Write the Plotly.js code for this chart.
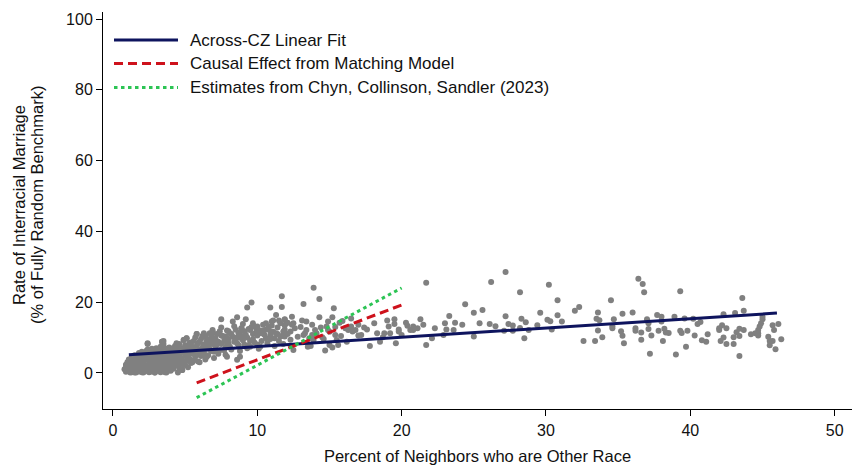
<!DOCTYPE html>
<html>
<head>
<meta charset="utf-8">
<script src="https://cdn.plot.ly/plotly-3.0.1.min.js"></script>
<style>html,body{margin:0;padding:0;background:#fff;}#chart{width:854px;height:465px;}</style>
</head>
<body>
<div id="chart"></div>
<script>
// Commuting-zone scatter: percent of neighbors who are other race (x) vs rate of interracial marriage (y)
const czX = [
0.8,0.9,0.9,1.0,1.0,1.1,1.1,1.2,1.2,1.3,1.3,1.4,1.4,1.5,1.5,1.5,
1.6,1.6,1.7,1.7,1.8,1.8,1.9,1.9,2.0,2.0,2.0,2.1,2.1,2.2,2.2,2.3,2.3,2.4,2.4,2.4,2.5,2.5,
2.6,2.6,2.7,2.7,2.8,2.8,2.9,2.9,3.0,3.0,3.0,3.1,3.1,3.2,3.2,3.3,3.3,3.4,3.4,3.4,3.5,3.5,3.5,
3.6,3.6,3.7,3.7,3.8,3.8,3.9,3.9,4.0,4.0,4.0,4.1,4.1,4.2,4.2,4.3,4.3,4.4,4.4,4.4,4.5,4.5,
4.6,4.6,4.7,4.7,4.8,4.8,4.9,4.9,5.0,5.0,5.1,5.1,5.2,5.2,5.3,5.3,5.4,5.4,5.5,5.5,
5.6,5.6,5.7,5.7,5.8,5.8,5.9,5.9,6.0,6.0,6.1,6.1,6.2,6.2,6.3,6.3,6.4,6.4,6.5,6.5,
6.6,6.6,6.8,6.8,6.9,7.0,7.0,7.1,7.2,7.3,7.4,7.5,7.5,
7.7,7.8,8.0,8.0,8.2,8.3,8.4,8.5,8.7,8.8,8.9,9.0,
9.1,9.2,9.4,9.5,9.7,9.8,9.9,10.0,10.1,10.3,10.4,10.5,10.7,
10.8,10.9,11.1,11.2,11.4,11.5,11.6,11.8,11.9,
0.9,0.9,1.5,2.1,2.4,2.9,3.4,3.5,3.7,4.5,4.6,4.8,4.9,5.1,5.8,6.4,6.9,7.5,7.9,7.9,8.3,8.6,8.6,9.0,9.2,9.3,9.3,9.6,9.7,10.0,
10.9,11.1,11.3,11.9,12.1,12.4,11.0,10.5,10.9,10.3,11.3,11.6,9.5,8.9,8.7,8.1,7.8,6.9,6.7,6.5,7.2,7.9,8.6,9.5,10.2,10.6,8.8,7.8,
11.7,11.7,11.9,12.0,11.8,12.3,12.4,12.5,12.5,11.9,13.1,13.2,13.4,13.4,13.2,13.5,13.7,13.8,13.9,13.9,14.0,14.3,14.3,14.5,14.7,
14.8,14.9,14.9,15.0,15.2,15.3,15.2,15.4,15.5,15.6,15.7,15.9,16.1,16.2,16.3,16.5,16.5,16.6,16.8,17.0,17.2,17.6,17.8,18.1,18.3,
18.5,18.7,18.8,19.0,19.1,19.2,19.5,19.5,19.6,19.8,19.8,20.0,20.3,20.4,20.6,20.8,20.8,21.1,21.3,21.5,21.7,21.7,22.1,22.3,22.9,
23.0,23.1,23.3,23.6,23.7,
24.2,24.4,25.0,25.0,25.4,25.6,26.1,26.2,26.5,27.1,27.2,27.2,27.4,27.7,27.7,28.2,28.2,28.3,28.5,28.6,28.8,29.4,29.6,30.1,30.2,
30.3,30.4,30.8,30.8,31.1,32.0,32.3,32.6,33.4,33.5,33.6,33.6,33.7,33.9,34.5,34.6,34.6,34.7,35.2,35.3,35.3,35.4,36.0,36.2,36.2,
36.4,36.6,36.6,36.7,36.8,37.0,37.1,37.1,37.2,37.3,37.7,37.8,
38.0,38.0,38.1,38.2,38.3,38.5,38.9,39.0,39.3,39.3,39.4,39.6,39.7,39.8,40.2,40.3,40.5,40.7,40.8,41.1,41.2,42.0,42.0,42.1,42.2,
42.3,42.3,42.5,42.5,43.0,43.0,43.1,43.2,43.4,43.4,43.4,43.6,43.7,43.7,44.2,44.5,44.7,44.7,44.7,44.8,44.9,45.0,45.0,45.4,45.5,
45.5,45.7,45.7,45.8,45.9,46.1,46.3,
1.0,1.1,1.2,1.3,1.4,1.6,1.7,1.8,1.8,1.9,2.0,2.1,2.2,2.2,2.3,2.3,2.5,2.5,2.6,2.6,2.7,2.7,2.8,2.8,2.9,2.9,
3.0,3.0,3.1,3.2,3.2,3.3,3.3,3.4,3.5,3.6,3.6,3.7,3.8,3.8,3.9,4.0,4.1,4.1,4.2,4.2,4.3,4.4,4.5,4.6,4.7,4.8,4.9,5.0,5.0,
5.1,5.2,5.3,5.4,5.5,5.6,5.7,5.8,5.9,6.0,6.1,6.2,6.3,6.4,6.5,6.6,6.7,6.8,6.9,7.0,7.1,7.2,7.3,7.4,7.5,7.6,7.7,7.9,8.0,
8.1,8.2,8.4,8.5,8.6,8.8,8.9,9.0,9.1,9.3,9.4,9.6,9.7,9.9,10.0,10.2,10.4,10.6,10.7,10.9,11.0,11.2,11.4,11.5,11.7,11.9,
12.1,12.3,12.6,12.8,13.0,13.3,13.6,13.8,14.1,14.4,14.6,15.0,15.4,15.8,16.4,17.0,17.4
];
const czY = [
1.0,2.0,0.3,1.5,3.0,0.5,2.4,1.2,3.6,0.2,2.0,4.2,1.0,2.8,0.4,5.0,
1.8,3.4,0.6,4.6,2.2,5.6,1.2,3.0,0.2,4.0,6.0,2.6,1.4,3.6,5.0,0.8,2.0,4.4,6.6,8.2,1.6,3.2,
0.3,5.4,2.4,4.0,1.0,6.2,3.0,0.1,4.8,2.0,7.0,1.2,3.8,5.6,0.6,2.8,4.4,6.6,8.8,1.8,3.4,5.2,8.2,
0.2,2.4,4.2,6.0,1.4,3.2,5.0,7.2,2.0,4.0,0.6,6.4,3.0,5.4,1.2,4.6,7.6,2.6,8.4,6.0,3.6,0.1,
5.0,2.7,7.0,4.2,0.8,6.2,9.3,2.3,4.8,7.8,3.4,9.8,5.8,1.6,6.8,4.0,8.6,2.8,5.4,7.4,
3.6,9.0,6.2,4.6,11.0,7.6,5.2,8.4,3.0,6.6,9.6,4.8,7.2,10.4,5.8,8.0,10.3,3.8,6.8,9.0,
7.6,5.0,10.0,6.2,8.2,9.4,4.2,7.0,11.0,8.8,6.4,10.6,12.8,
9.0,7.2,11.8,8.4,6.6,10.2,13.2,9.4,7.8,11.4,9.8,13.8,
8.0,10.8,12.4,9.0,11.0,8.6,12.8,10.6,6.8,9.0,13.6,10.8,8.4,
13.0,9.6,11.6,7.6,12.8,9.0,14.0,8.2,12.2,
1.3,2.3,0.1,0.1,8.4,0.1,8.8,9.0,0.1,2.3,8.2,0.8,9.3,9.8,11.0,10.3,11.7,15.2,9.8,4.6,14.5,15.7,3.7,10.3,15.2,7.0,18.5,19.9,14.0,13.1,
18.5,14.8,16.4,15.2,14.2,13.6,14.5,12.1,11.7,11.2,11.2,10.3,12.1,12.6,11.2,11.2,10.3,12.1,11.2,8.8,8.4,7.9,8.4,7.4,7.4,9.8,4.6,5.1,
21.7,18.6,15.0,14.0,11.7,11.7,15.9,14.0,6.5,10.3,14.8,19.5,14.5,12.1,10.7,7.4,7.6,10.7,9.3,24.1,12.1,15.7,20.9,10.1,6.3,
13.1,14.5,12.1,7.9,7.2,18.3,15.7,10.7,9.3,7.9,14.2,14.7,12.6,8.8,12.1,15.4,13.1,11.7,12.1,13.6,10.7,12.3,7.6,14.0,11.2,
8.8,10.1,11.2,14.8,13.1,11.2,15.2,13.8,8.4,11.7,12.3,10.7,14.2,13.3,12.1,13.1,12.1,12.6,15.2,13.6,25.5,7.9,9.8,12.6,10.7,
14.0,12.3,16.1,12.1,14.2,
13.6,19.4,17.0,10.3,14.0,17.8,13.8,25.7,13.2,11.9,16.0,28.5,13.8,11.9,13.4,22.8,12.7,15.3,9.8,14.3,12.1,13.5,17.0,15.0,24.9,
14.6,12.3,16.3,20.5,14.5,17.6,18.6,9.0,9.0,15.3,12.0,17.1,14.9,10.1,20.5,13.2,12.6,15.2,11.8,16.7,10.5,8.4,17.1,11.9,12.6,
26.6,9.4,11.4,25.1,22.8,15.2,14.0,12.4,5.4,10.6,16.4,11.9,
14.5,15.9,9.0,12.5,11.4,11.3,15.9,5.2,23.1,11.9,11.3,15.4,7.4,11.9,15.3,10.6,13.8,14.4,9.2,8.8,10.9,12.6,12.1,9.0,13.5,
10.0,16.6,12.6,8.2,10.1,8.2,16.9,11.5,4.8,12.5,10.4,21.2,12.1,17.6,10.9,11.2,11.2,10.6,12.1,13.1,14.0,15.9,15.2,10.2,9.0,
7.8,9.0,13.5,12.1,6.7,13.8,9.5,
0.8,3.8,0.1,4.6,2.6,0.1,2.8,0.4,3.8,4.8,1.6,3.2,0.4,2.2,4.2,6.2,0.2,5.0,2.0,3.8,0.8,6.8,3.4,4.6,1.8,5.6,
0.6,3.0,6.0,2.2,4.2,0.2,7.4,3.8,1.0,4.8,7.0,2.8,0.6,5.6,3.6,6.8,1.8,4.8,3.6,7.0,2.0,5.2,7.0,1.4,5.8,3.6,6.8,2.2,5.6,
7.0,4.4,8.4,6.0,3.0,7.0,10.0,5.6,3.2,8.8,6.4,5.0,11.2,7.4,4.6,9.4,6.8,8.6,11.2,6.0,9.8,8.0,5.4,11.8,8.2,10.4,6.4,12.0,9.6,
7.4,11.0,8.8,12.2,10.0,6.2,12.6,9.2,11.8,10.0,7.8,13.0,9.6,11.4,8.0,12.0,11.2,14.0,12.4,10.6,13.4,9.8,11.0,14.8,10.4,13.4,
11.0,9.4,12.6,10.2,13.0,11.2,9.8,13.6,11.2,12.8,9.6,11.6,13.0,10.4,12.8,10.6,12.8
];

// Fitted / estimated lines (endpoints)
const fitX = [1.1, 46.0];
const fitY = [5.1, 16.9];
const matchX = [5.8, 20.0];
const matchY = [-2.8, 19.2];
const ccsX = [5.8, 20.0];
const ccsY = [-7.0, 24.0];

const seriesNames = ["Across-CZ Linear Fit", "Causal Effect from Matching Model", "Estimates from Chyn, Collinson, Sandler (2023)"];
const xTicks = [0, 10, 20, 30, 40, 50];
const yTicks = [0, 20, 40, 60, 80, 100];

const FONT = "Liberation Sans, Arial, sans-serif";
const navy = "rgb(14,20,94)";
const red = "rgb(206,18,28)";
const green = "rgb(44,196,84)";

const traces = [
  {x: czX, y: czY, type: "scatter", mode: "markers",
   marker: {color: "rgb(128,128,128)", size: 6}, showlegend: false, hoverinfo: "skip"},
  {x: fitX, y: fitY, type: "scatter", mode: "lines", line: {color: navy, width: 3}, showlegend: false},
  {x: matchX, y: matchY, type: "scatter", mode: "lines", line: {color: red, width: 3, dash: "9px,5px"}, showlegend: false},
  {x: ccsX, y: ccsY, type: "scatter", mode: "lines", line: {color: green, width: 3, dash: "3.5px,3.5px"}, showlegend: false}
];

// Manual legend (paper coordinates of plot area)
const L = 103, R = 852, T = 12, B = 409;
const px = v => (v - L) / (R - L);
const py = v => (B - v) / (B - T);
const legRows = [40, 63.5, 87.5];
const legStyles = [
  {color: navy, width: 3},
  {color: red, width: 3, dash: "9px,5px"},
  {color: green, width: 3, dash: "3.5px,3.5px"}
];
const shapes = legRows.map((yy, i) => ({
  type: "line", xref: "paper", yref: "paper",
  x0: px(114), x1: px(178), y0: py(yy), y1: py(yy), line: legStyles[i]
}));
const annotations = legRows.map((yy, i) => ({
  xref: "paper", yref: "paper", x: px(188), y: py(yy), xanchor: "left", yanchor: "middle",
  text: seriesNames[i], showarrow: false, font: {family: FONT, size: 17, color: "#111"}
}));
annotations.push({
  xref: "paper", yref: "paper", x: px(19), y: py(205), xanchor: "center", yanchor: "middle",
  text: "Rate of Interracial Marriage", textangle: -90, showarrow: false,
  font: {family: FONT, size: 16.5, color: "#111"}
});
annotations.push({
  xref: "paper", yref: "paper", x: px(37), y: py(205), xanchor: "center", yanchor: "middle",
  text: "(% of Fully Random Benchmark)", textangle: -90, showarrow: false,
  font: {family: FONT, size: 16.5, color: "#111"}
});

const layout = {
  width: 854, height: 465,
  margin: {l: L, r: 854 - R, t: T, b: 465 - B},
  paper_bgcolor: "#fff", plot_bgcolor: "#fff",
  font: {family: FONT, size: 16, color: "#111"},
  showlegend: false,
  xaxis: {
    range: [-0.69, 51.2], tickvals: xTicks, ticktext: xTicks.map(String),
    ticks: "outside", ticklen: 6, tickcolor: "#000", tickwidth: 1, ticklabelstandoff: 1,
    showline: true, linecolor: "#000", linewidth: 1, showgrid: false, zeroline: false,
    tickfont: {family: FONT, size: 16, color: "#111"},
    title: {text: "Percent of Neighbors who are Other Race", font: {family: FONT, size: 16.5, color: "#111"}, standoff: 12},
    automargin: false
  },
  yaxis: {
    range: [-10.2, 102], tickvals: yTicks, ticktext: yTicks.map(String),
    ticks: "outside", ticklen: 6, tickcolor: "#000", tickwidth: 1,
    showline: true, linecolor: "#000", linewidth: 1, showgrid: false, zeroline: false,
    tickfont: {family: FONT, size: 16, color: "#111"},
    automargin: false
  },
  shapes: shapes,
  annotations: annotations
};

Plotly.newPlot("chart", traces, layout, {displayModeBar: false, staticPlot: true});
</script>
</body>
</html>
